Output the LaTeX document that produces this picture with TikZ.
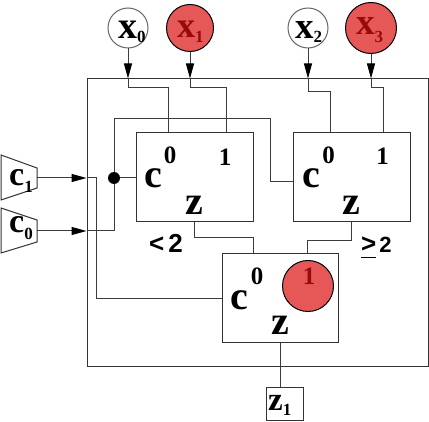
\documentclass[tikz,border=0pt]{standalone}
\usepackage{fontspec}
\setmainfont{Liberation Serif}
\newfontfamily\labsans{Liberation Sans}
\usetikzlibrary{arrows.meta,calc}
\definecolor{redfill}{RGB}{230,88,88}
\definecolor{redtext}{RGB}{150,10,10}
\definecolor{wirec}{RGB}{60,60,60}
\newcommand\sublab[5]{\bfseries\fontsize{#3}{#3}\selectfont #1\fontsize{#4}{#4}\selectfont\raisebox{-#5pt}{#2}}
\begin{document}
\begin{tikzpicture}[x=1pt,y=-1pt,
  wire/.style={draw=wirec, line width=1pt},
  arr/.style={wire, -{Triangle[length=15pt,width=8pt,fill=black,color=black]}},
  blk/.style={draw=black!80, line width=1pt, fill=white, inner sep=0pt, rectangle},
  inp/.style={circle, draw=black!60, line width=1pt, inner sep=0pt, minimum size=40pt, fill=white},
  redin/.style={circle, draw=black, line width=1pt, fill=redfill, inner sep=0pt},
  big/.style={font=\bfseries\fontsize{40}{40}\selectfont, inner sep=0pt},
  sml/.style={font=\bfseries\fontsize{25}{25}\selectfont, inner sep=0pt},
  lab/.style={anchor=base west, inner sep=0pt},
  trap/.style={draw=black!80, line width=1pt, fill=white},
  cmp/.style={lab, font=\labsans\bfseries\fontsize{22}{22}\selectfont},
]
\useasboundingbox (0,0) rectangle (429,422);
% outer box
\node[blk, minimum width=341pt, minimum height=288pt] (outer) at (257.5,223) {};
% inner boxes
\node[blk, minimum width=117pt, minimum height=89pt] (b1) at (194.5,177.5) {};
\node[blk, minimum width=117pt, minimum height=89pt] (b2) at (351.5,177.5) {};
\node[blk, minimum width=116pt, minimum height=89pt] (b3) at (280,298.5) {};
\node[blk, minimum width=37pt, minimum height=33pt] (z1) at (284.5,404.5) {};
\node[lab] (z1lab) at (268,411) {\sublab{z}{1}{33}{17}{5}};
% box labels
\node[big] (b1c) at (153.5,178) {c};
\node[sml] (b1s0) at (170,155.5) {0};
\node[sml] (b1s1) at (225,157.5) {1};
\node[big] (b1z) at (194.5,205) {z};
\node[big] (b2c) at (311,178) {c};
\node[sml] (b2s0) at (328.5,155) {0};
\node[sml] (b2s1) at (382.5,156.5) {1};
\node[big] (b2z) at (351,205.5) {z};
\node[big] (b3c) at (239.5,300) {c};
\node[sml] (b3s0) at (257,276) {0};
\node[big] (b3z) at (280,325.5) {z};
\node[redin, minimum size=51pt] (b3r) at (308,286) {};
\node[sml, text=redtext] (b3s1) at (309,276) {1};
% inputs
\node[inp] (x0) at (128,28) {};
\node[redin, minimum size=47pt] (x1) at (190,28) {};
\node[inp] (x2) at (308,28) {};
\node[redin, minimum size=51pt] (x3) at (371,28) {};
\node[lab] (x0lab) at (118,39) {\sublab{x}{0}{38}{17}{4}};
\node[lab, text=redtext] (x1lab) at (177,38) {\sublab{x}{1}{36}{17}{5}};
\node[lab] (x2lab) at (295,39) {\sublab{x}{2}{37}{17}{4}};
\node[lab, text=redtext] (x3lab) at (356,35) {\sublab{x}{3}{37}{17}{8}};
% trapezoid inputs
\draw[trap] (1,155) -- (37,168) -- (37,188) -- (1,200) -- cycle;
\draw[trap] (1,208) -- (37,220) -- (37,242) -- (1,253) -- cycle;
\coordinate (c1o) at (37,178);
\coordinate (c0o) at (37,231);
\node[lab] (c1lab) at (9,186) {\sublab{c}{1}{34}{17}{7}};
\node[lab] (c0lab) at (9,233) {\sublab{c}{0}{34}{17}{7}};
% ports
\coordinate (b1p0) at (168,133);
\coordinate (b1p1) at (226,133);
\coordinate (b2p0) at (330,133);
\coordinate (b2p1) at (383,133);
\coordinate (b3p0) at (253,254);
\coordinate (b3p1) at (307,254);
\coordinate (c0top) at (114,119);
\coordinate (b2cin) at (293,182);
\coordinate (c1turn) at (96,298.5);
% x connectors
\draw[arr] (x0) -- (x0 |- outer.north);
\draw[wire] (x0 |- outer.north) -- ++(0,9) -| (b1p0);
\draw[arr] (x1) -- (x1 |- outer.north);
\draw[wire] (x1 |- outer.north) -- ++(0,9) -| (b1p1);
\draw[arr] (x2) -- (x2 |- outer.north);
\draw[wire] (x2 |- outer.north) -- ++(0,13) -| (b2p0);
\draw[arr] (x3) -- (x3 |- outer.north);
\draw[wire] (x3 |- outer.north) -- ++(0,9) -| (b2p1);
% c connectors
\draw[arr] (c1o) -- (c1o -| outer.west);
\draw[wire] (c1o -| outer.west) -| (c1turn) -- (b3.west);
\draw[arr] (c0o) -- (c0o -| outer.west);
\node[circle, fill=black, minimum size=12pt, inner sep=0pt] (dot) at (114,178) {};
\draw[wire] (c0o -| outer.west) -| (dot);
\draw[wire] (dot) -- (dot -| b1.west);
\draw[wire] (dot) -- (c0top) -| ($(b2cin)+(-23,0)$) -- (b2cin);
% outputs
\draw[wire] (b1.south) -- ++(0,15) -| (b3p0);
\draw[wire] (b2.south) -- ++(0,18) -| (b3p1);
\draw[wire] (b3.south) -- (b3.south |- z1.north);
% comparison labels
\node[cmp] (lt) at (149,253) {\fontsize{26}{26}\selectfont<\hspace{4pt}2};
\node[cmp] (ge) at (361,253) {\setbox0\hbox{\fontsize{26}{26}\selectfont>}\rlap{\rule[-5pt]{\wd0}{1pt}}\box0\hspace{3pt}2};
\end{tikzpicture}
\end{document}
